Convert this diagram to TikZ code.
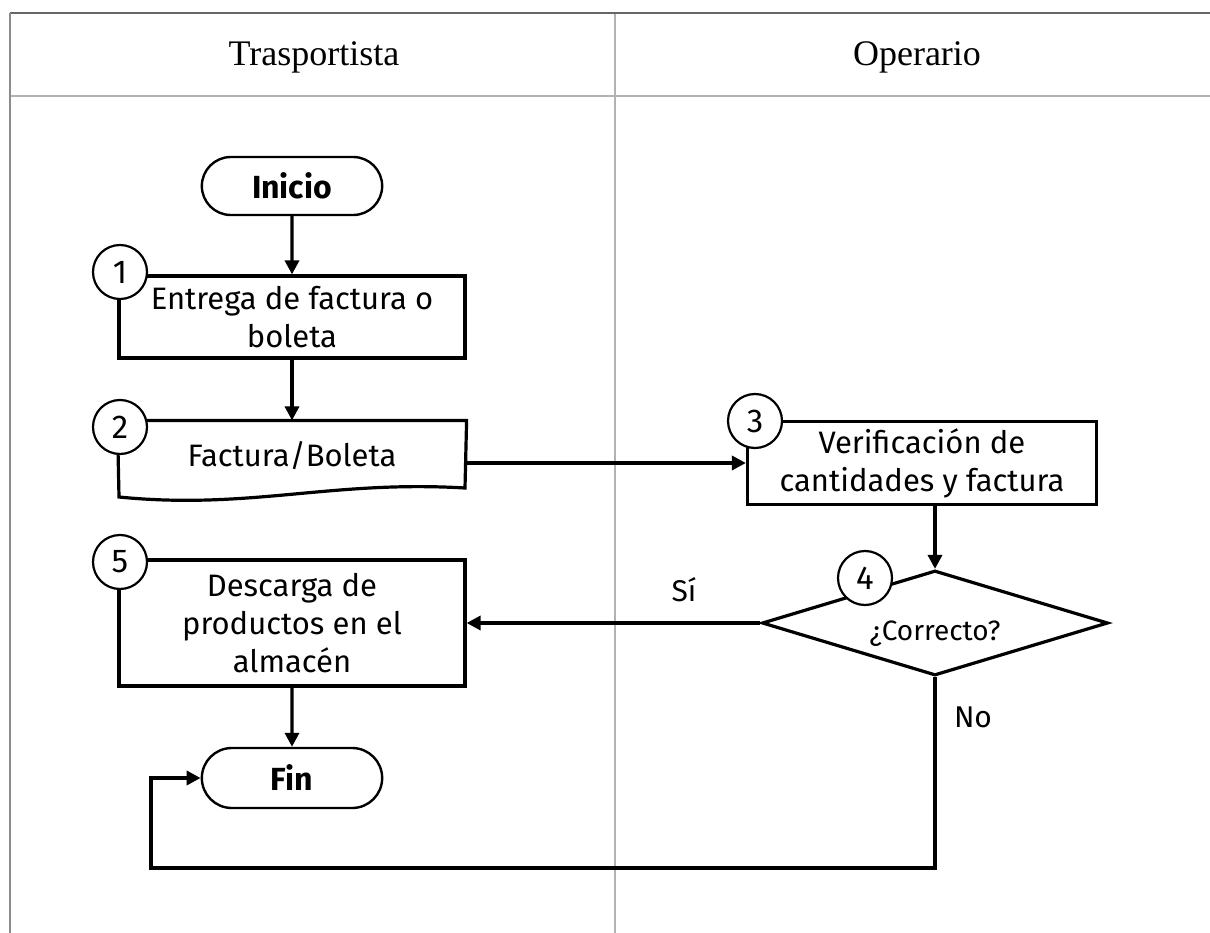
\documentclass[tikz,border=0pt]{standalone}
\usepackage{fontspec}
\setmainfont{Liberation Serif}
\newfontfamily\flujo{Fira Sans}
\usetikzlibrary{arrows.meta,shapes.geometric,shapes.misc}

\tikzset{
  linea/.style = {line width=3.4pt, -{Triangle[length=14pt,width=14pt]}},
  terminal/.style = {rounded rectangle, draw, line width=2.4pt, minimum width=187pt,
    minimum height=58pt, font=\flujo\fontsize{32}{38}\selectfont\bfseries},
  proceso/.style = {rectangle, draw, line width=3.2pt, minimum width=346pt,
    align=center, font=\flujo\fontsize{31}{38}\selectfont},
  decision/.style = {diamond, draw, line width=3.2pt, aspect=3.3, minimum width=346pt,
    minimum height=105pt, inner sep=0pt, font=\flujo\fontsize{28}{32}\selectfont},
  numero/.style = {circle, draw, fill=white, line width=2.2pt, minimum size=54pt,
    inner sep=0pt, font=\flujo\fontsize{33}{33}\selectfont},
  etiqueta/.style = {font=\flujo\fontsize{30}{32}\selectfont},
  carril/.style = {draw=black!30, line width=1.6pt}
}

\begin{document}
\begin{tikzpicture}[x=1pt, y=-1pt]
  \useasboundingbox (0,0) rectangle (1210,933);

  % carriles
  \draw [carril] (615,13) -- (615,933);
  \draw [carril] (10,96) -- (1210,96);
  \draw [draw=black!60, line width=1.6pt] (10,13) -- (1210,13);
  \draw [draw=black!45, line width=1.6pt] (10,13) -- (10,933);
  \node [font=\fontsize{36}{40}\selectfont] (trasportista) at (314,57) {Trasportista};
  \node [font=\fontsize{36}{40}\selectfont] (operario) at (917,57) {Operario};

  % pasos
  \node [terminal] (inicio) at (292,186) {Inicio};
  \node [proceso, minimum height=82pt] (paso1) at (292,317) {Entrega de factura o\\boleta};
  \node [proceso, draw=none, minimum height=68pt] (paso2) at (292,456) {Factura/Boleta};
  \draw [line width=3.2pt] (paso2.north west) -- (paso2.north east) -- (465,488)
    .. controls (330,480) and (250,510) .. (119,497) -- cycle;
  \node [proceso, minimum width=349pt, minimum height=83pt] (paso3) at (922,463) {Verificación de\\cantidades y factura};
  \node [decision] (correcto) at (935,623) {\raisebox{-17pt}[0pt][0pt]{¿Correcto?}};
  \node [proceso, minimum height=126pt] (paso5) at (292,623) {Descarga de\\productos en el\\almacén};
  \node [terminal, minimum height=60pt] (fin) at (292,778) {Fin};
  \coordinate (esquina) at (151,868);

  % flechas
  \draw [linea] (inicio) -- (paso1);
  \draw [linea] (paso1) -- (paso2.north);
  \draw [linea] (paso3.west -| paso2.east) -- (paso3.west);
  \draw [linea] (paso3.south -| correcto.north) -- (correcto.north);
  \draw [linea] (correcto.west) -- node [etiqueta, pos=0.26, above=16pt] {Sí} (paso5.east);
  \draw [linea] (paso5) -- (fin);
  \draw [linea] (correcto.south) |- (esquina) |- (fin.west);
  \node [etiqueta] (no) at (973,717) {No};

  % numeros
  \node [numero] (num1) at (120,272) {1};
  \node [numero] (num2) at (120,427) {2};
  \node [numero] (num3) at (755,421) {3};
  \node [numero] (num4) at (865,578) {4};
  \node [numero] (num5) at (120,562) {5};
\end{tikzpicture}
\end{document}
